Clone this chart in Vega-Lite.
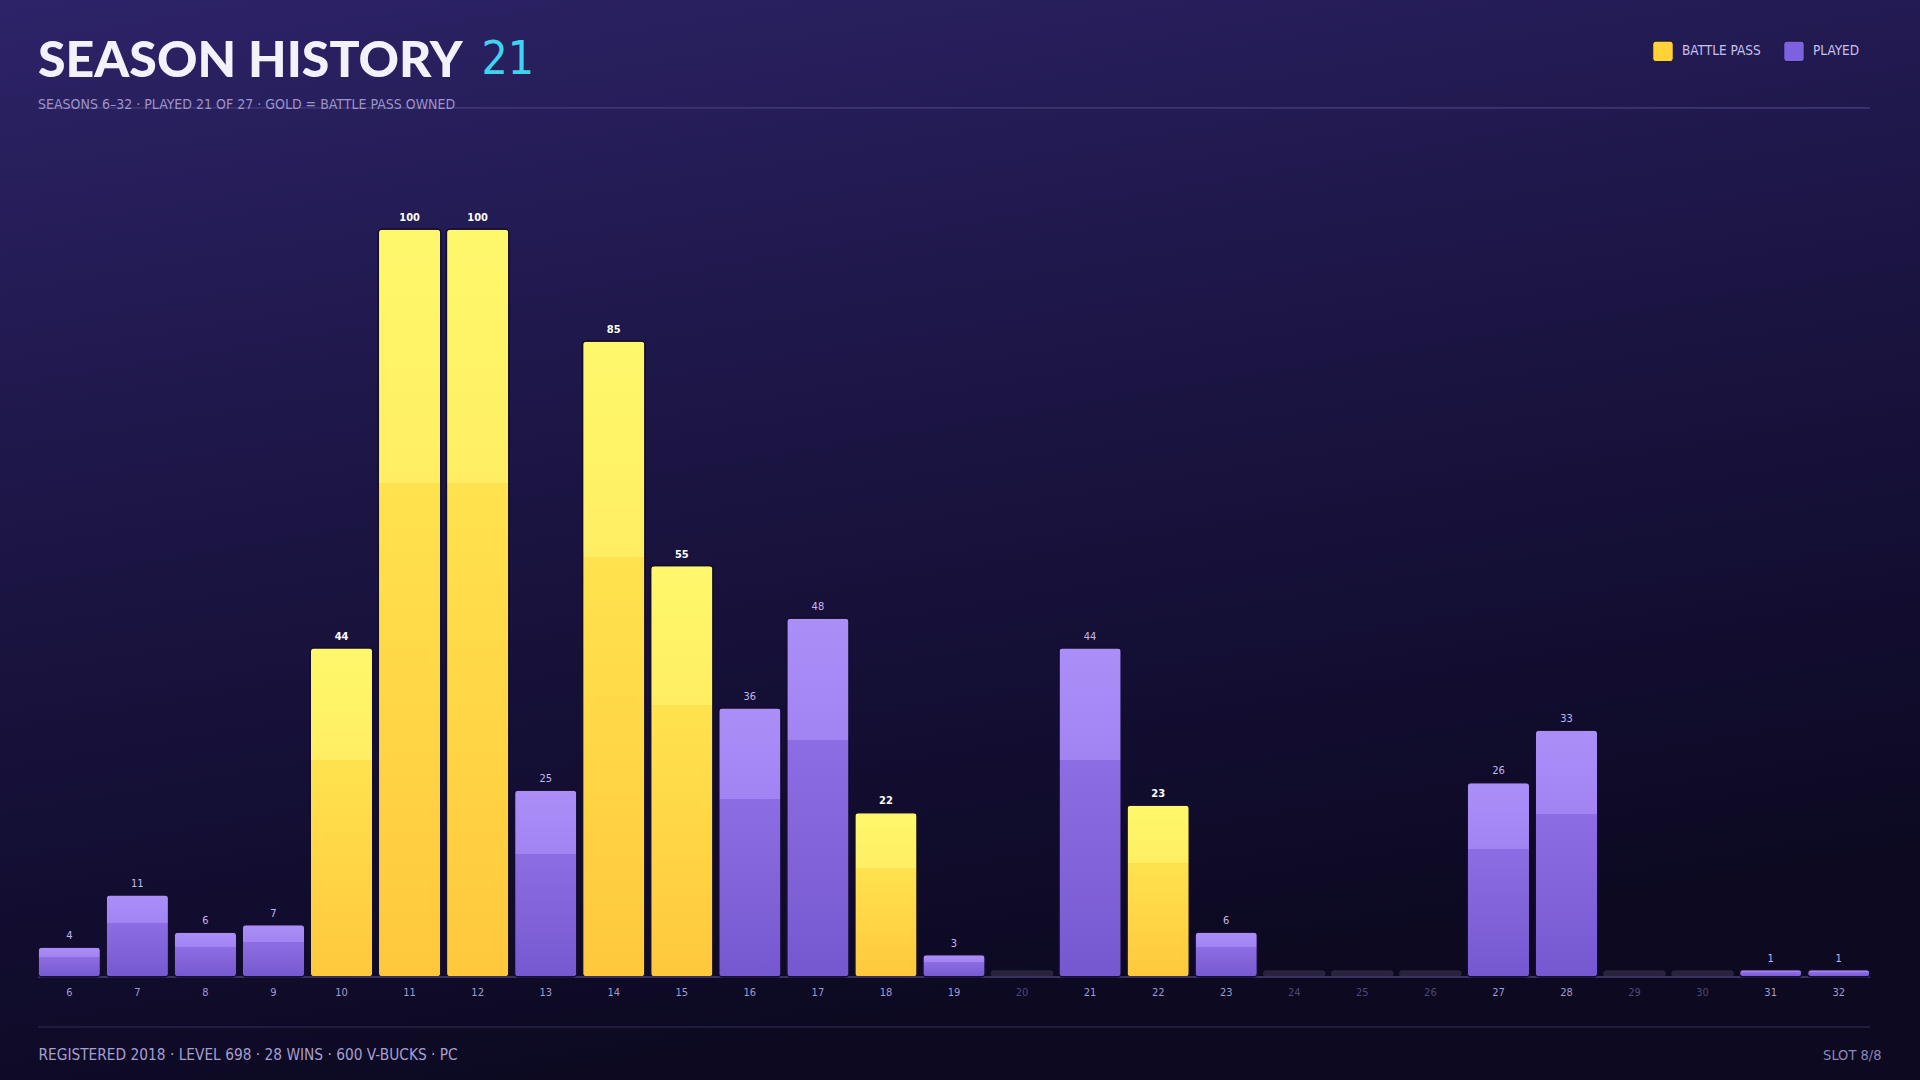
{
  "$schema": "https://vega.github.io/schema/vega-lite/v6.json",
  "width": 1920,
  "height": 1080,
  "autosize": {"type": "none"},
  "padding": 0,
  "background": "#120d2f",
  "config": {
    "view": {
      "stroke": null,
      "fill": {"gradient": "linear", "x1": 0, "y1": 0, "x2": 0.3, "y2": 1,
        "stops": [{"offset": 0, "color": "#2d2368"}, {"offset": 0.4, "color": "#1e1749"}, {"offset": 0.75, "color": "#130e32"}, {"offset": 1, "color": "#0c0921"}]}
    },
    "font": "DejaVu Sans Condensed, Liberation Sans Narrow, sans-serif"
  },
  "title": {
    "text": "SEASON HISTORY",
    "subtitle": "SEASONS 6–32 · PLAYED 21 OF 27 · GOLD = BATTLE PASS OWNED",
    "anchor": "start",
    "frame": "group",
    "orient": "top",
    "offset": -112,
    "dx": 38,
    "font": "Lato",
    "fontSize": 50,
    "fontWeight": 900,
    "color": "#f3f1fb",
    "subtitleFont": "DejaVu Sans Condensed, Liberation Sans Narrow, sans-serif",
    "subtitleFontSize": 14,
    "subtitleColor": "#9d93c9",
    "subtitlePadding": 11
  },
  "data": {
    "values": [
      {"season": 6, "value": 4, "type": "PLAYED"},
      {"season": 7, "value": 11, "type": "PLAYED"},
      {"season": 8, "value": 6, "type": "PLAYED"},
      {"season": 9, "value": 7, "type": "PLAYED"},
      {"season": 10, "value": 44, "type": "BATTLE PASS"},
      {"season": 11, "value": 100, "type": "BATTLE PASS"},
      {"season": 12, "value": 100, "type": "BATTLE PASS"},
      {"season": 13, "value": 25, "type": "PLAYED"},
      {"season": 14, "value": 85, "type": "BATTLE PASS"},
      {"season": 15, "value": 55, "type": "BATTLE PASS"},
      {"season": 16, "value": 36, "type": "PLAYED"},
      {"season": 17, "value": 48, "type": "PLAYED"},
      {"season": 18, "value": 22, "type": "BATTLE PASS"},
      {"season": 19, "value": 3, "type": "PLAYED"},
      {"season": 20, "value": 0, "type": "NONE"},
      {"season": 21, "value": 44, "type": "PLAYED"},
      {"season": 22, "value": 23, "type": "BATTLE PASS"},
      {"season": 23, "value": 6, "type": "PLAYED"},
      {"season": 24, "value": 0, "type": "NONE"},
      {"season": 25, "value": 0, "type": "NONE"},
      {"season": 26, "value": 0, "type": "NONE"},
      {"season": 27, "value": 26, "type": "PLAYED"},
      {"season": 28, "value": 33, "type": "PLAYED"},
      {"season": 29, "value": 0, "type": "NONE"},
      {"season": 30, "value": 0, "type": "NONE"},
      {"season": 31, "value": 1, "type": "PLAYED"},
      {"season": 32, "value": 1, "type": "PLAYED"}
    ]
  },
  "resolve": {"axis": {"y": "independent"}},
  "layer": [
    {
      "transform": [{"filter": "datum.type === 'BATTLE PASS'"}],
      "mark": {
        "type": "bar", "cornerRadius": 4, "stroke": "#150d2e", "strokeWidth": 1.5,
        "fill": {"gradient": "linear", "x1": 0, "y1": 0, "x2": 0, "y2": 1,
          "stops": [{"offset": 0, "color": "#fff86c"}, {"offset": 0.34, "color": "#ffee63"}, {"offset": 0.34, "color": "#ffe24f"}, {"offset": 1, "color": "#ffc83c"}]}
      },
      "encoding": {
        "x": {
          "field": "season", "type": "ordinal",
          "scale": {"type": "band", "paddingInner": 0.08, "paddingOuter": 0.6466, "align": 0.432},
          "axis": {
            "orient": "bottom", "offset": -103, "domain": false, "ticks": false, "grid": false, "zindex": 1,
            "labelAngle": 0, "labelFontSize": 11, "labelPadding": 9,
            "labelColor": {"condition": {"test": "indexof([20,24,25,26,29,30], datum.value) >= 0", "value": "#4f4874"}, "value": "#a39acb"},
            "title": "REGISTERED 2018 · LEVEL 698 · 28 WINS · 600 V-BUCKS · PC",
            "titleX": 38, "titleY": 82, "titleAlign": "left", "titleAnchor": "start", "titleBaseline": "alphabetic",
            "titleFontSize": 15.3, "titleFontWeight": "normal", "titleColor": "#a79fd0"
          }
        },
        "y": {
          "field": "value", "type": "quantitative",
          "scale": {"domain": [-13.77, 130.6], "nice": false},
          "axis": {
            "orient": "left", "labels": false, "ticks": false, "domain": false, "grid": false,
            "title": "21", "titleAngle": 0, "titleX": 481, "titleY": 73, "titleAlign": "left", "titleBaseline": "alphabetic",
            "titleFontSize": 46, "titleFontWeight": "normal", "titleColor": "#3fd3ee"
          }
        }
      }
    },
    {
      "transform": [{"filter": "datum.type === 'NONE'"}],
      "mark": {"type": "bar", "fill": "#29233f", "cornerRadius": 3},
      "encoding": {
        "x": {"field": "season", "type": "ordinal"},
        "y": {"datum": 0.9, "type": "quantitative", "axis": null}
      }
    },
    {
      "mark": {"type": "rule", "color": "#3a3360", "strokeWidth": 1.5},
      "encoding": {
        "x": {"datum": 6, "type": "ordinal", "bandPosition": 0},
        "x2": {"datum": 32, "bandPosition": 1},
        "y": {"datum": 0, "type": "quantitative", "axis": null}
      }
    },
    {
      "mark": {"type": "rule", "color": "#3d3570", "strokeWidth": 1},
      "encoding": {
        "x": {"datum": 6, "type": "ordinal", "bandPosition": 0},
        "x2": {"datum": 32, "bandPosition": 1},
        "y": {"datum": 116.2, "type": "quantitative", "axis": null}
      }
    },
    {
      "mark": {"type": "rule", "color": "#221c40", "strokeWidth": 1.5},
      "encoding": {
        "x": {"datum": 6, "type": "ordinal", "bandPosition": 0},
        "x2": {"datum": 32, "bandPosition": 1},
        "y": {"datum": -6.68, "type": "quantitative", "axis": null}
      }
    },
    {
      "transform": [{"filter": "datum.type === 'PLAYED'"}],
      "mark": {
        "type": "bar", "cornerRadius": 4, "stroke": "#150d2e", "strokeWidth": 1.5,
        "fill": {"gradient": "linear", "x1": 0, "y1": 0, "x2": 0, "y2": 1,
          "stops": [{"offset": 0, "color": "#ab8ff8"}, {"offset": 0.34, "color": "#a184f2"}, {"offset": 0.34, "color": "#8d6de3"}, {"offset": 1, "color": "#7558d0"}]}
      },
      "encoding": {
        "x": {"field": "season", "type": "ordinal"},
        "y": {"field": "value", "type": "quantitative", "axis": null}
      }
    },
    {
      "transform": [{"filter": "datum.type === 'BATTLE PASS'"}],
      "mark": {"type": "text", "dy": -8, "baseline": "alphabetic", "fontSize": 11, "fontWeight": "bold", "color": "#ffffff"},
      "encoding": {
        "x": {"field": "season", "type": "ordinal"},
        "y": {
          "field": "value", "type": "quantitative",
          "axis": {
            "orient": "right", "labels": false, "ticks": false, "domain": false, "grid": false,
            "title": "SLOT 8/8", "titleAngle": 0, "titleX": -39, "titleY": 1059, "titleAlign": "right", "titleBaseline": "alphabetic",
            "titleFontSize": 14.5, "titleFontWeight": "normal", "titleColor": "#8f86b8"
          }
        },
        "text": {"field": "value", "type": "quantitative"}
      }
    },
    {
      "transform": [{"filter": "datum.type === 'PLAYED'"}],
      "mark": {"type": "text", "dy": -8, "baseline": "alphabetic", "fontSize": 11, "color": "#c4b6ee"},
      "encoding": {
        "x": {"field": "season", "type": "ordinal"},
        "y": {"field": "value", "type": "quantitative", "axis": null},
        "text": {"field": "value", "type": "quantitative"}
      }
    },
    {
      "transform": [{"filter": "datum.type !== 'NONE'"}],
      "mark": {"type": "square", "opacity": 0, "filled": true},
      "encoding": {
        "x": {"field": "season", "type": "ordinal"},
        "y": {"field": "value", "type": "quantitative", "axis": null},
        "color": {
          "field": "type", "type": "nominal",
          "scale": {"domain": ["BATTLE PASS", "PLAYED"], "range": ["#ffd23a", "#7c62e0"]},
          "legend": {
            "orient": "none", "legendX": 1652, "legendY": 40, "direction": "horizontal", "title": null,
            "symbolType": "M-0.7,-1H0.7Q1,-1,1,-0.7V0.7Q1,1,0.7,1H-0.7Q-1,1,-1,0.7V-0.7Q-1,-1,-0.7,-1Z",
            "symbolSize": 420, "symbolOpacity": 1, "symbolStrokeColor": "#1a1030", "symbolStrokeWidth": 1,
            "labelFontSize": 13.5, "labelColor": "#c8c0ee", "labelOffset": 8, "columnPadding": 20, "padding": 0
          }
        }
      }
    }
  ]
}
